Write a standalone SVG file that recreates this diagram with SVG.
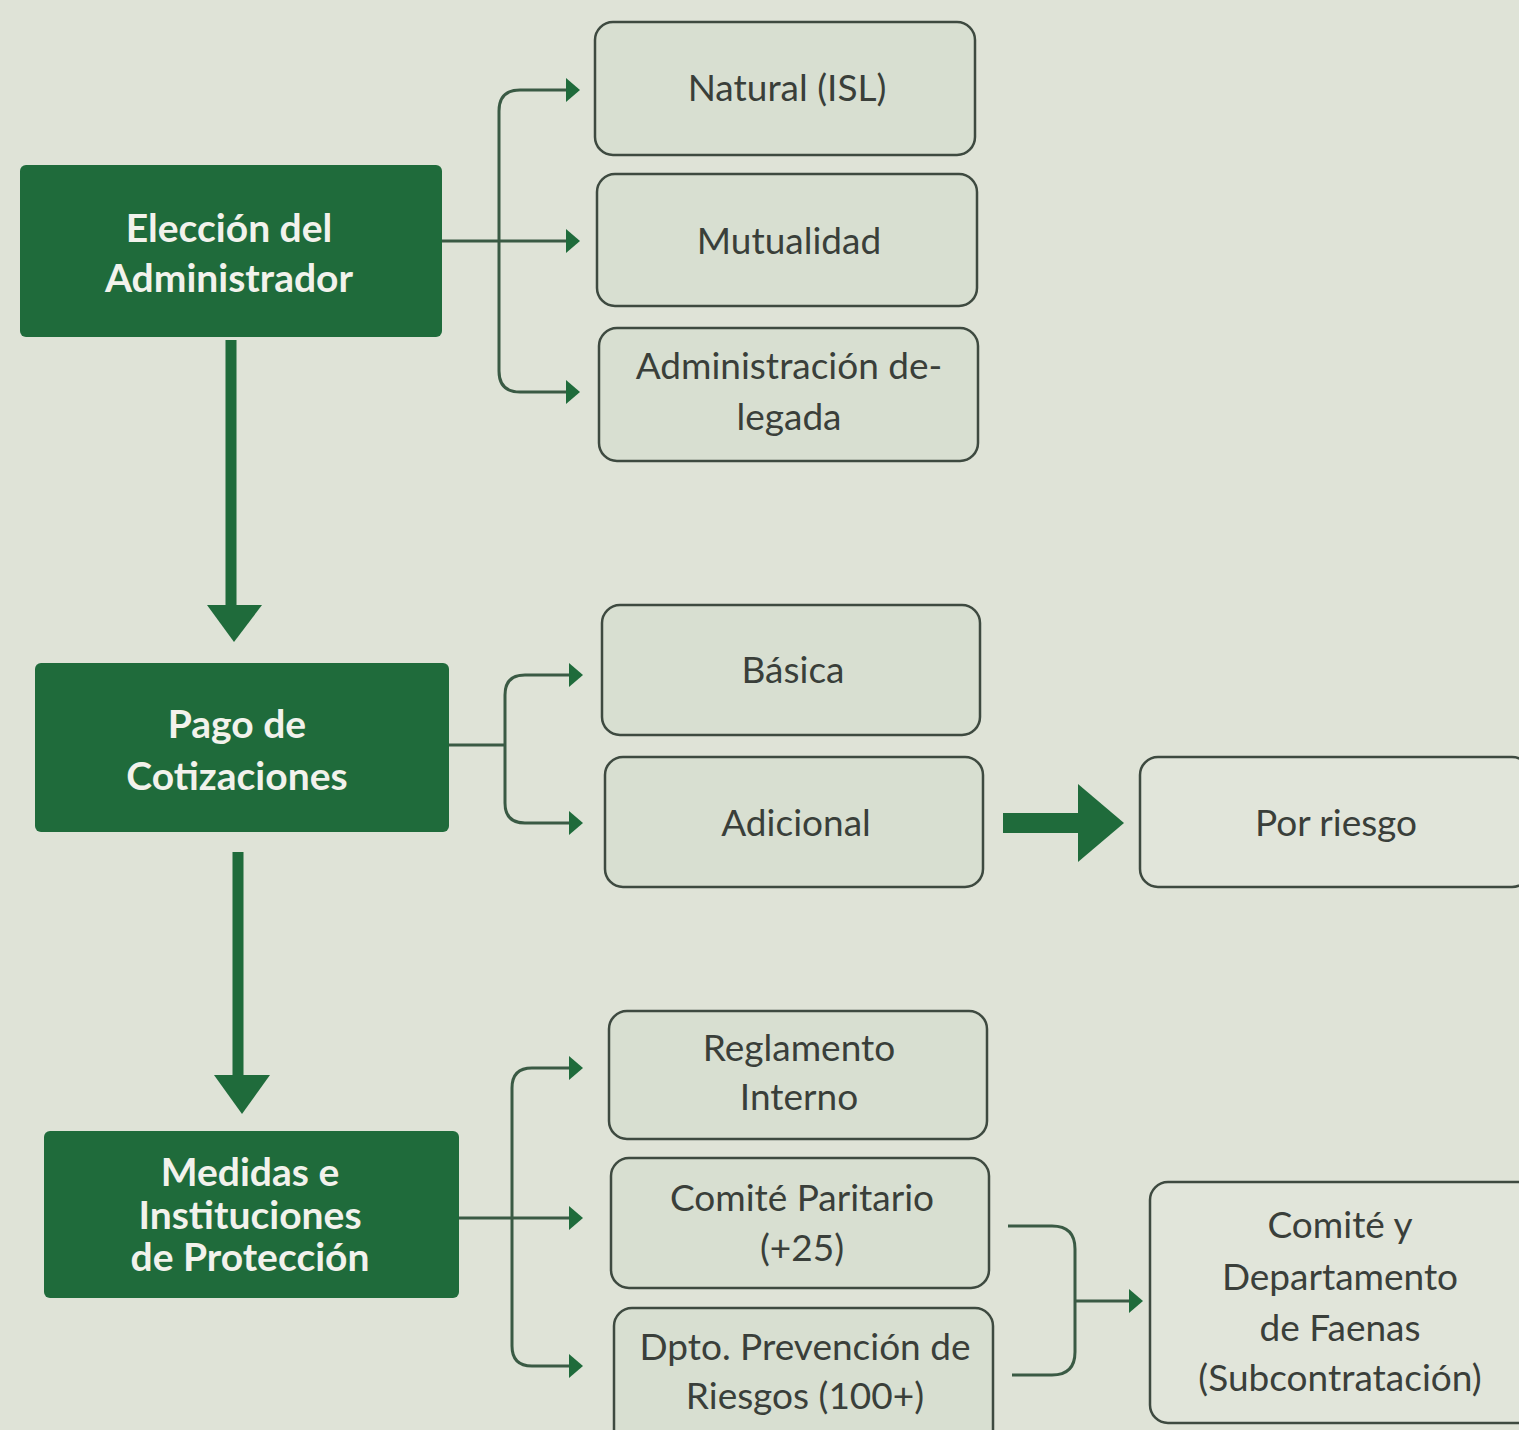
<svg xmlns="http://www.w3.org/2000/svg" width="1519" height="1430" viewBox="0 0 1519 1430">
<defs>
<style>
.main rect{fill:#1f6b3b;}
.main text{fill:#f2f2ec;font-family:Lato,"Open Sans",sans-serif;font-weight:bold;font-size:39px;text-anchor:middle;}
.sub rect{fill:#d8dfd1;stroke:#3e4a40;stroke-width:2.5;}
.sub text,.out text{fill:#3a3f3a;font-family:Lato,"Open Sans",sans-serif;font-size:37px;text-anchor:middle;}
.out rect{fill:#e1e5da;stroke:#3e4a40;stroke-width:2.5;}
.thin{fill:none;stroke:#3a5a44;stroke-width:3;}
.thick{fill:none;stroke:#1f6b3b;stroke-width:11;}
.head{fill:#1f6b3b;}
</style>
</defs>
<rect width="1519" height="1430" fill="#dfe3d7"/>
<g id="connectors">
<path class="thin" d="M442,241 H568"/>
<polygon class="head" points="566,229 580,241 566,253"/>
<path class="thin" d="M568,90 H520 Q499,90 499,111 V371 Q499,392 520,392 H568"/>
<polygon class="head" points="566,78 580,90 566,102"/>
<polygon class="head" points="566,380 580,392 566,404"/>
<path class="thick" d="M231,340 V608"/>
<polygon class="head" points="207,605 262,605 234,642"/>
<path class="thin" d="M449,745 H505"/>
<path class="thin" d="M571,675 H525 Q505,675 505,695 V803 Q505,823 525,823 H571"/>
<polygon class="head" points="569,663 583,675 569,687"/>
<polygon class="head" points="569,811 583,823 569,835"/>
<path d="M1003,823 H1082" stroke="#1f6b3b" stroke-width="20" fill="none"/>
<polygon class="head" points="1078,784 1124,823 1078,862"/>
<path class="thick" d="M238,852 V1078"/>
<polygon class="head" points="214,1075 270,1075 242,1114"/>
<path class="thin" d="M459,1218 H571"/>
<polygon class="head" points="569,1206 583,1218 569,1230"/>
<path class="thin" d="M571,1068 H532 Q512,1068 512,1088 V1346 Q512,1366 532,1366 H571"/>
<polygon class="head" points="569,1056 583,1068 569,1080"/>
<polygon class="head" points="569,1354 583,1366 569,1378"/>
<path class="thin" d="M1008,1226 H1052 Q1075,1226 1075,1249 V1352 Q1075,1375 1052,1375 H1012"/>
<path class="thin" d="M1075,1301 H1131"/>
<polygon class="head" points="1129,1289 1143,1301 1129,1313"/>
</g>
<g id="eleccion" class="main">
<rect x="20" y="165" width="422" height="172" rx="6"/>
<text x="229" y="242">Elección del</text>
<text x="229" y="292">Administrador</text>
</g>
<g id="natural" class="sub">
<rect x="595" y="22" width="380" height="133" rx="18"/>
<text x="787" y="101">Natural (ISL)</text>
</g>
<g id="mutualidad" class="sub">
<rect x="597" y="174" width="380" height="132" rx="18"/>
<text x="789" y="254">Mutualidad</text>
</g>
<g id="delegada" class="sub">
<rect x="599" y="328" width="379" height="133" rx="18"/>
<text x="789" y="379">Administración de-</text>
<text x="789" y="430">legada</text>
</g>
<g id="pago" class="main">
<rect x="35" y="663" width="414" height="169" rx="6"/>
<text x="237" y="738">Pago de</text>
<text x="237" y="790">Cotizaciones</text>
</g>
<g id="basica" class="sub">
<rect x="602" y="605" width="378" height="130" rx="18"/>
<text x="793" y="683">Básica</text>
</g>
<g id="adicional" class="sub">
<rect x="605" y="757" width="378" height="130" rx="18"/>
<text x="796" y="836">Adicional</text>
</g>
<g id="porriesgo" class="out">
<rect x="1140" y="757" width="390" height="130" rx="18"/>
<text x="1336" y="836">Por riesgo</text>
</g>
<g id="medidas" class="main">
<rect x="44" y="1131" width="415" height="167" rx="6"/>
<text x="250" y="1186">Medidas e</text>
<text x="250" y="1229">Instituciones</text>
<text x="250" y="1271">de Protección</text>
</g>
<g id="reglamento" class="sub">
<rect x="609" y="1011" width="378" height="128" rx="18"/>
<text x="799" y="1061">Reglamento</text>
<text x="799" y="1110">Interno</text>
</g>
<g id="comite" class="sub">
<rect x="611" y="1158" width="378" height="130" rx="18"/>
<text x="802" y="1211">Comité Paritario</text>
<text x="802" y="1261">(+25)</text>
</g>
<g id="dpto" class="sub">
<rect x="614" y="1308" width="379" height="140" rx="18"/>
<text x="805" y="1360">Dpto. Prevención de</text>
<text x="805" y="1409">Riesgos (100+)</text>
</g>
<g id="faenas" class="out">
<rect x="1150" y="1182" width="390" height="241" rx="18"/>
<text x="1340" y="1238">Comité y</text>
<text x="1340" y="1290">Departamento</text>
<text x="1340" y="1341">de Faenas</text>
<text x="1340" y="1391">(Subcontratación)</text>
</g>
</svg>
